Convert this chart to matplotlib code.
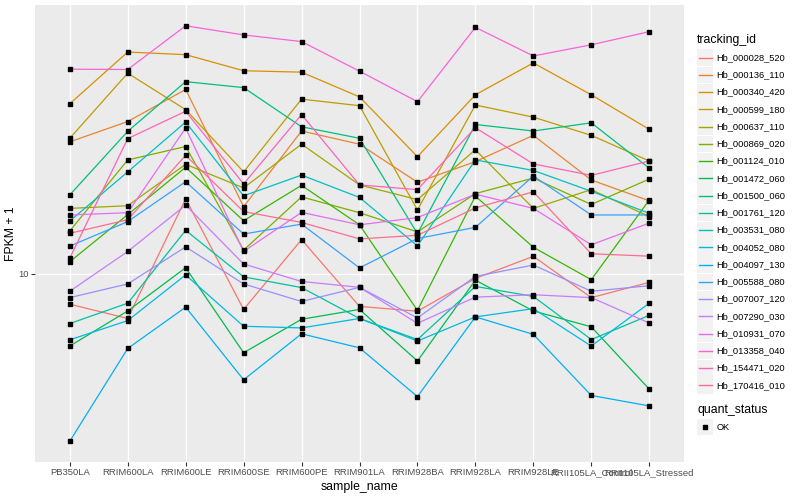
import numpy as np
import matplotlib
matplotlib.use("Agg")
import matplotlib.pyplot as plt
from matplotlib.lines import Line2D
from matplotlib.patches import Rectangle
from matplotlib.ticker import NullLocator

plt.rcParams['font.family'] = ['Liberation Sans', 'DejaVu Sans']

samples = ["PB350LA", "RRIM600LA", "RRIM600LE", "RRIM600SE", "RRIM600PE",
           "RRIM901LA", "RRIM928BA", "RRIM928LA", "RRIM928LE",
           "RRII105LA_Control", "RRII105LA_Stressed"]

tracking_ids = ["Hb_000028_520", "Hb_000136_110", "Hb_000340_420", "Hb_000599_180",
                "Hb_000637_110", "Hb_000869_020", "Hb_001124_010", "Hb_001472_060",
                "Hb_001500_060", "Hb_001761_120", "Hb_003531_080", "Hb_004052_080",
                "Hb_004097_130", "Hb_005588_080", "Hb_007007_120", "Hb_007290_030",
                "Hb_010931_070", "Hb_013358_040", "Hb_154471_020", "Hb_170416_010"]

# ggplot hue palette, 20 levels
colours = ["#F8766D", "#EA8331", "#D89000", "#C09B00", "#A3A500", "#7CAE00",
           "#39B600", "#00BB4E", "#00BF7D", "#00C1A3", "#00BFC4", "#00BAE0",
           "#00B0F6", "#35A2FF", "#9590FF", "#C77CFF", "#E76BF3", "#FA62DB",
           "#FF62BC", "#FF6C91"]

# FPKM + 1 per sample
hb_000028_520 = [8.68, 8.12, 14.19, 8.47, 11.73, 8.59, 8.40, 9.79, 10.85, 8.95, 9.61]
hb_000136_110 = [18.51, 20.35, 23.63, 13.68, 19.47, 18.31, 15.33, 16.88, 19.08, 15.49, 14.06]
hb_000340_420 = [22.11, 28.14, 27.80, 25.79, 25.62, 22.83, 17.27, 23.05, 26.75, 23.05, 19.62]
hb_000599_180 = [18.82, 25.50, 21.51, 16.09, 22.59, 21.91, 13.47, 21.98, 20.77, 19.08, 16.93]
hb_000637_110 = [13.57, 13.74, 16.67, 14.93, 18.31, 15.14, 14.14, 17.84, 13.57, 14.81, 13.06]
hb_000869_020 = [12.21, 17.01, 18.11, 11.17, 14.32, 13.30, 12.16, 14.54, 15.63, 13.82, 15.56]
hb_001124_010 = [10.58, 13.18, 16.44, 12.81, 15.11, 12.57, 8.43, 14.37, 11.32, 9.73, 14.11]
hb_001472_060 = [7.14, 8.41, 10.29, 6.92, 8.09, 8.47, 6.66, 9.71, 8.41, 7.81, 5.84]
hb_001500_060 = [14.45, 19.44, 24.51, 23.84, 19.86, 18.82, 12.06, 20.07, 19.47, 20.23, 16.37]
hb_001761_120 = [7.93, 8.72, 12.25, 9.86, 9.38, 8.12, 7.36, 9.43, 9.00, 7.36, 8.24]
hb_003531_080 = [12.79, 16.09, 20.30, 14.39, 15.85, 14.28, 11.39, 17.01, 16.20, 14.70, 13.26]
hb_004052_080 = [7.35, 8.04, 9.95, 7.83, 7.77, 8.12, 7.31, 8.18, 8.50, 7.14, 8.72]
hb_004097_130 = [4.58, 7.06, 8.56, 6.10, 7.56, 7.08, 5.64, 8.18, 7.54, 5.67, 5.40]
hb_005588_080 = [11.38, 12.76, 15.37, 12.04, 12.61, 10.28, 11.79, 12.42, 15.78, 13.16, 13.16]
hb_007007_120 = [8.95, 9.54, 11.34, 9.54, 8.79, 9.39, 8.14, 9.88, 10.42, 9.22, 9.46]
hb_007290_030 = [9.22, 11.10, 13.78, 10.47, 9.65, 9.39, 7.94, 8.97, 9.07, 8.95, 7.95]
hb_010931_070 = [13.16, 13.30, 19.74, 11.10, 13.32, 12.57, 13.00, 14.50, 13.57, 11.45, 12.67]
hb_013358_040 = [25.98, 25.94, 31.81, 30.48, 29.55, 25.74, 22.32, 31.58, 27.63, 29.11, 30.95]
hb_154471_020 = [10.76, 18.79, 21.35, 15.21, 21.02, 15.14, 14.81, 19.77, 16.70, 15.83, 16.93]
hb_170416_010 = [12.08, 12.87, 17.38, 13.37, 12.71, 11.77, 11.97, 13.60, 14.66, 10.98, 10.86]

series = [hb_000028_520, hb_000136_110, hb_000340_420, hb_000599_180, hb_000637_110,
          hb_000869_020, hb_001124_010, hb_001472_060, hb_001500_060, hb_001761_120,
          hb_003531_080, hb_004052_080, hb_004097_130, hb_005588_080, hb_007007_120,
          hb_007290_030, hb_010931_070, hb_013358_040, hb_154471_020, hb_170416_010]

W, H = 800, 500
fig = plt.figure(figsize=(W / 100, H / 100), dpi=100)
# panel in pixels: x 35..684, y 5..462
ax = fig.add_axes([35 / W, 1 - 462 / H, 649 / W, 457 / H])
ax.set_facecolor('#EBEBEB')
for s in ax.spines.values():
    s.set_visible(False)

x = np.arange(len(samples))
for vals, col in zip(series, colours):
    ax.plot(x, vals, color=col, lw=0.9, zorder=2)
for vals in series:
    ax.plot(x, vals, ls='none', marker='s', ms=2.3, color='black', zorder=3)

ax.set_yscale('log')
allv = np.concatenate([np.array(v) for v in series])
lo, hi = np.log10(allv.min()), np.log10(allv.max())
pad = 0.05 * (hi - lo)
ax.set_ylim(10 ** (lo - pad), 10 ** (hi + pad))
ax.set_xlim(-0.6, len(samples) - 0.4)
ax.set_yticks([10])
ax.set_yticklabels(['10'])
ax.yaxis.set_minor_locator(NullLocator())
ax.set_xticks(x)
ax.set_xticklabels(samples)
ax.grid(True, color='white', lw=1.0, zorder=0)
ax.set_axisbelow(True)
ax.tick_params(length=3, width=0.8, color='#333333', labelcolor='#4D4D4D',
               labelsize=6.8, pad=1.5)

ax.set_xlabel('sample_name', fontsize=8.8)
ax.xaxis.set_label_coords(0.5, (462 - 481) / 457)
ax.set_ylabel('FPKM + 1', fontsize=8.8)
ax.yaxis.set_label_coords((17 - 35) / 649, 0.5)

# legend, ggplot style
def fy(yp):
    return 1 - yp / H

fig.text(697 / W, fy(40.5), 'tracking_id', fontsize=8.8, va='center')
for i, (name, col) in enumerate(zip(tracking_ids, colours)):
    yc = 57.7 + i * 17.25
    fig.add_artist(Rectangle((697 / W, fy(yc + 8.3)), 16 / W, 16.6 / H,
                             transform=fig.transFigure, facecolor='#F2F2F2',
                             edgecolor='none'))
    fig.add_artist(Line2D([698.5 / W, 711.5 / W], [fy(yc), fy(yc)], color=col,
                          lw=1.0, transform=fig.transFigure))
    fig.text(716.5 / W, fy(yc), name, fontsize=6.7, va='center')

fig.text(697 / W, fy(410), 'quant_status', fontsize=8.8, va='center')
fig.add_artist(Rectangle((697 / W, fy(427 + 8.3)), 16 / W, 16.6 / H,
                         transform=fig.transFigure, facecolor='#F2F2F2',
                         edgecolor='none'))
fig.add_artist(Line2D([705 / W], [fy(427)], marker='s', ms=2.3, color='black',
                      ls='none', transform=fig.transFigure))
fig.text(716.5 / W, fy(427), 'OK', fontsize=6.7, va='center')

fig.savefig('out.png', dpi=100)
